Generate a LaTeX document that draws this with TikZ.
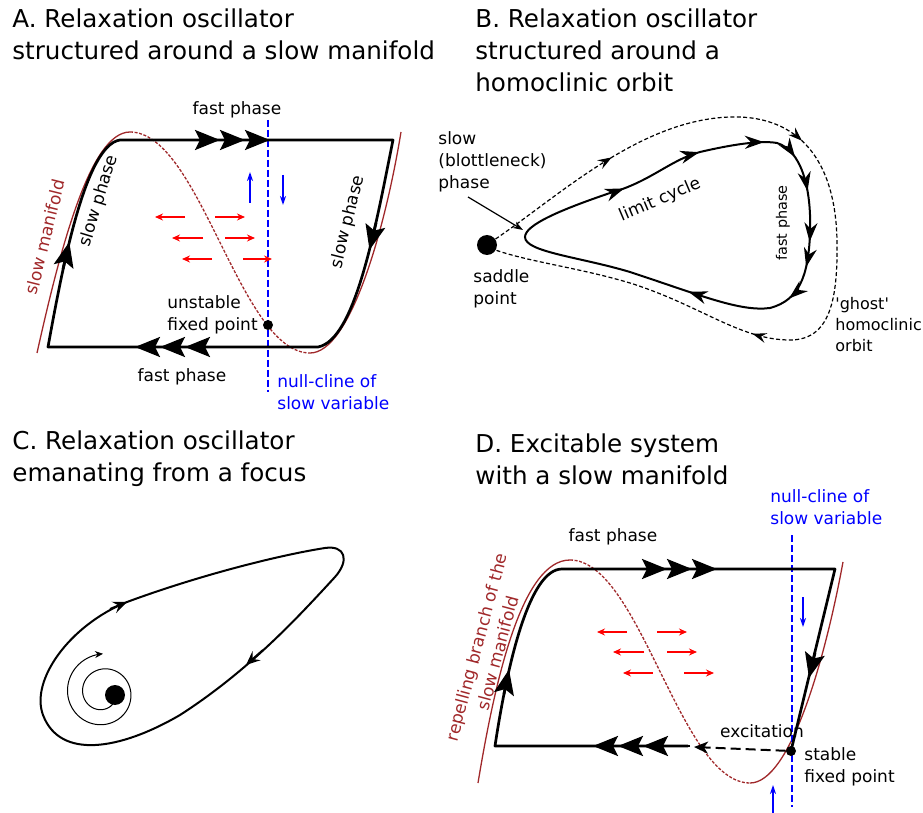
\documentclass[tikz,border=0pt]{standalone}
\usepackage{fontspec}
\setmainfont{DejaVu Sans}
\usepackage{xcolor}
\usepackage{tikz}
\usetikzlibrary{arrows.meta, positioning, decorations.markings}
\definecolor{manred}{HTML}{A0282A}
\definecolor{clineblue}{HTML}{0000FF}
\definecolor{forcered}{HTML}{FF0000}
\font\quotefont="DejaVu Sans" at 8pt

\begin{document}
\begin{tikzpicture}[x=0.5pt, y=-0.5pt,
    headline/.style={font=\fontsize{12.3}{16}\selectfont, align=left, anchor=west, inner sep=0pt},
    lbl/.style={font=\fontsize{8.5}{11}\selectfont, inner sep=0pt},
    orbit/.style={line width=1.35pt, line join=round},
    manifold/.style={draw=manred, line width=0.65pt},
    repel/.style={manifold, dash pattern=on 1.5pt off 0.8pt},
    nullcline/.style={draw=clineblue, line width=0.6pt, dash pattern=on 3.5pt off 1.5pt},
    lc/.tip={Stealth[length=9.5pt, width=6.5pt, inset=3pt]},
    gh/.tip={Stealth[length=7pt, width=5pt, inset=2.5pt]},
    fastarr/.style={line width=1.35pt, -{Stealth[length=12.5pt, width=10pt, inset=2.5pt]Stealth[length=12.5pt, width=10pt, inset=2.5pt]Stealth[length=12.5pt, width=10pt, inset=2.5pt]}},
    slowarr/.style={line width=1.35pt, -{Stealth[length=12.5pt, width=10pt, inset=2.5pt]}},
    pull/.style={forcered, line width=0.6pt, -{Stealth[length=4pt, width=3.5pt]}},
    drift/.style={clineblue, line width=0.7pt, -{Stealth[length=4.5pt, width=3pt]}},
    fixpt/.style={circle, fill=black, inner sep=0pt, minimum size=#1},
    limitcyc/.style={line width=1pt},
    ghost/.style={line width=0.6pt, dash pattern=on 2pt off 1.2pt},
    pointer/.style={line width=0.6pt, -{Stealth[length=5pt, width=3.5pt]}},
    teardrop/.style={line width=1pt},
    teararr/.style={line width=1pt, -{Stealth[length=7pt, width=6pt, inset=2.5pt]}},
    excite/.style={line width=1pt, dash pattern=on 5pt off 2.5pt, -{Stealth[length=7pt, width=6pt, inset=2pt]}},
]
    \useasboundingbox (0,0) rectangle (923,813);

    % === titles ===
    \node[headline] (titleA) at (12,34) {A. Relaxation oscillator\\structured around a slow manifold};
    \node[headline] (titleB) at (475,50) {B. Relaxation oscillator\\structured around a\\homoclinic orbit};
    \node[headline] (titleC) at (12,459) {C. Relaxation oscillator\\emanating from a focus};
    \node[headline] (titleD) at (475,459) {D. Excitable system\\with a slow manifold};

    % === A: slow manifold ===
    \draw[manifold] (37,353) .. controls (60,250) and (90,132) .. (130,132);
    \draw[repel] (130,132) .. controls (200,132) and (240,353) .. (310,353);
    \draw[manifold] (310,353) .. controls (350,353) and (385,230) .. (401,132);
    \draw[nullcline] (268,120) -- (268,392);
    \draw[orbit] (48,347) .. controls (62,270) and (85,145) .. (120,140) -- (393,140)
        .. controls (375,230) and (355,340) .. (318,347) -- cycle;
    \draw[fastarr] (180,140) -- (270,140);
    \draw[fastarr] (230,347) -- (135,347);
    \draw[slowarr] (63,269) -- (69.3,242);
    \draw[slowarr] (376,223) -- (369.5,250);

    \draw[pull] (185,217) -- (155,217);
    \draw[pull] (215,217) -- (245,217);
    \draw[pull] (203,238) -- (172,238);
    \draw[pull] (225,238) -- (255,238);
    \draw[pull] (212,259) -- (182,259);
    \draw[pull] (243,259) -- (272,259);
    \draw[drift] (250,203) -- (250,172);
    \draw[drift] (283,175) -- (283,205);

    \node[fixpt=5pt] (unstable) at (268,325) {};
    \node[lbl] (fastAt) at (237,110) {fast phase};
    \node[lbl] (fastAb) at (182,377) {fast phase};
    \node[lbl, rotate=73] (slowAl) at (99,201) {slow phase};
    \node[lbl, rotate=76] (slowAr) at (348,222) {slow phase};
    \node[lbl, rotate=76, text=manred] (manA) at (45,237) {slow manifold};
    \node[lbl, align=left, anchor=west] (unstableLbl) at (167,315) {unstable\\fixed point};
    \node[lbl, align=left, anchor=west, text=clineblue] (clineA) at (277,392) {null-cline of\\slow variable};

    % === B: homoclinic orbit ===
    \node[fixpt=10pt] (saddle) at (487,245) {};
    \draw[ghost, postaction={decorate}, decoration={markings,
            mark=at position 0.16 with {\arrow{gh}},
            mark=at position 0.39 with {\arrow{gh}},
            mark=at position 0.695 with {\arrow{gh}}}]
        (saddle.35) .. controls (560,195) and (640,120) .. (730,117)
        .. controls (790,115) and (835,150) .. (837,240)
        .. controls (838,300) and (830,340) .. (790,340)
        .. controls (740,340) and (700,305) .. (630,283)
        .. controls (580,268) and (530,262) .. (saddle.-30);
    \draw[limitcyc, postaction={decorate}, decoration={markings,
            mark=at position 0.155 with {\arrow{lc}},
            mark=at position 0.27 with {\arrow{lc}},
            mark=at position 0.36 with {\arrow{lc}},
            mark=at position 0.41 with {\arrow{lc}},
            mark=at position 0.46 with {\arrow{lc}},
            mark=at position 0.53 with {\arrow{lc}},
            mark=at position 0.565 with {\arrow{lc}},
            mark=at position 0.615 with {\arrow{lc}},
            mark=at position 0.76 with {\arrow{lc}}}]
        (525,237) .. controls (525,225) and (560,210) .. (610,193)
        .. controls (650,182) and (670,160) .. (700,152)
        .. controls (730,145) and (760,140) .. (777,143)
        .. controls (800,150) and (812,185) .. (810,235)
        .. controls (808,275) and (800,300) .. (770,308)
        .. controls (740,312) and (700,295) .. (630,272)
        .. controls (580,257) and (525,252) .. (525,237) -- cycle;

    \node[lbl, align=left, anchor=west] (neckLbl) at (438,162) {slow\\(blottleneck)\\phase};
    \coordinate (neckFrom) at (468,197);
    \coordinate (neck) at (523,230);
    \draw[pointer] (neckFrom) -- (neck);
    \node[lbl, align=left, anchor=west] (saddleLbl) at (473,289) {saddle\\point};
    \node[lbl, rotate=23] (cycleLbl) at (660,200) {limit cycle};
    \node[lbl, rotate=90, font=\fontsize{7.2}{9}\selectfont] (fastB) at (783,223) {fast phase};
    \node[lbl, align=left, anchor=west, font=\fontsize{8}{10.5}\selectfont] (ghostLbl) at (835,325) {\quotefont 'ghost'\\homoclinic\\orbit};

    % === C: focus ===
    \node[fixpt=10pt] (focus) at (115,695) {};
    \draw[line width=0.5pt, -{Stealth[length=4pt, width=3.5pt]}]
        plot[domain=30:630, samples=120, smooth]
        ({103+(14+0.042*(\x-30))*cos(\x)}, {693+(14+0.042*(\x-30))*sin(\x)});
    \draw[teardrop] (127,602) .. controls (200,575) and (280,555) .. (325,548)
        .. controls (345,545) and (350,560) .. (335,577)
        .. controls (300,615) and (250,670) .. (180,715)
        .. controls (120,750) and (60,760) .. (43,715)
        .. controls (30,680) and (70,625) .. (127,602) -- cycle;
    \draw[teararr] (110,609) -- (127,602);
    \draw[teararr] (263,650) -- (246,665);

    % === D: excitable ===
    \draw[manifold] (478,783) .. controls (495,680) and (522,560) .. (570,560);
    \draw[repel] (570,560) .. controls (640,560) and (680,783) .. (750,783);
    \draw[manifold] (750,783) .. controls (790,783) and (825,660) .. (843,562);
    \draw[nullcline] (792,535) -- (792,807);
    \node[fixpt=5pt] (stable) at (791,751) {};
    \draw[orbit] (688,746) -- (495,746) .. controls (508,660) and (530,569) .. (562,569)
        -- (835,569) -- (stable.center);
    \draw[fastarr] (600,569) -- (717,569);
    \draw[fastarr] (690,746) -- (593,746);
    \draw[slowarr] (504,694) -- (509,669.5);
    \draw[slowarr] (815,653) -- (809,678);
    \coordinate (kick) at (694,747);
    \draw[excite] (stable) -- (kick);

    \draw[pull] (627,632) -- (597,632);
    \draw[pull] (657,632) -- (687,632);
    \draw[pull] (644,652) -- (613,652);
    \draw[pull] (667,652) -- (697,652);
    \draw[pull] (653,673) -- (623,673);
    \draw[pull] (684,673) -- (714,673);
    \draw[drift] (803,597) -- (803,627);
    \draw[drift] (773,813) -- (773,785);

    \node[lbl] (fastD) at (613,537) {fast phase};
    \node[lbl, align=left, anchor=west, text=clineblue] (clineD) at (770,507) {null-cline of\\slow variable};
    \node[lbl] (exciteLbl) at (762,731) {excitation};
    \node[lbl, align=left, anchor=west] (stableLbl) at (804,767) {stable\\fixed point};
    \node[lbl, align=center, rotate=75, text=manred] (repelLbl) at (487,650) {repelling branch of the\\slow manifold};
\end{tikzpicture}
\end{document}
